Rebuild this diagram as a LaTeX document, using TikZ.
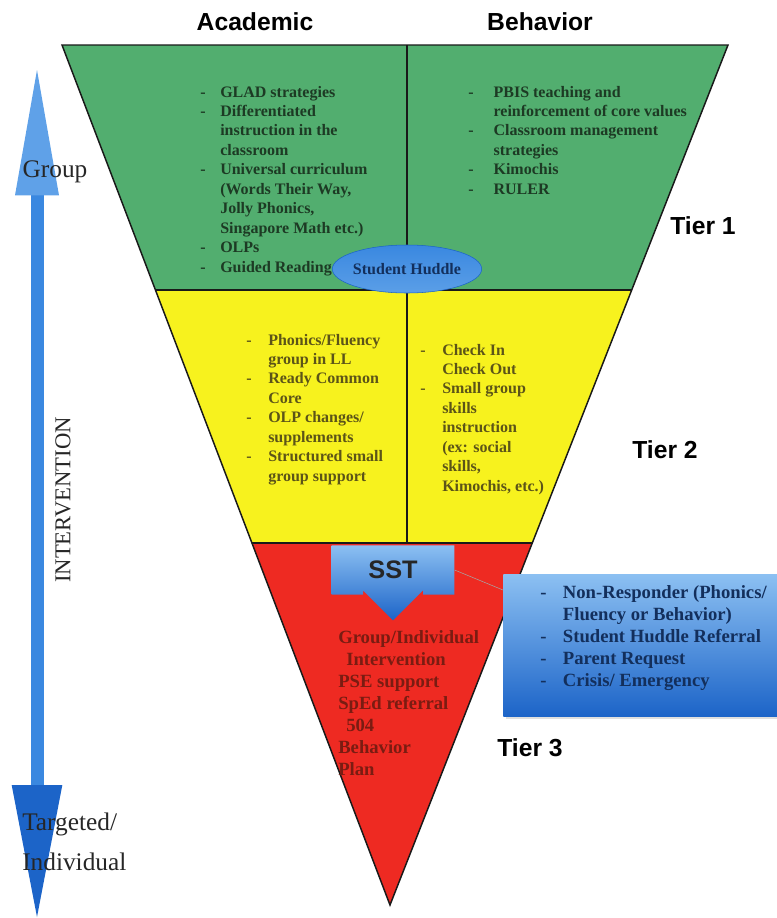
\documentclass[tikz,border=0pt]{standalone}
\usepackage{fontspec}
\setmainfont{Liberation Serif}
\setsansfont{Liberation Sans}
\usetikzlibrary{arrows.meta,positioning,shapes.geometric,shapes.arrows,calc,shadows}
\definecolor{tgreen}{HTML}{52AE6F}
\definecolor{tyellow}{HTML}{F7F21E}
\definecolor{tred}{HTML}{EE2A22}
\definecolor{tblue}{HTML}{3A88E0}
\definecolor{tbluelt}{HTML}{8CC0F2}
\definecolor{tbluedk}{HTML}{1C64C8}
\definecolor{gtxt}{HTML}{1D3A24}
\definecolor{ytxt}{HTML}{5C5418}
\definecolor{rtxt}{HTML}{7A1C12}
\definecolor{btxt}{HTML}{132F5C}
\tikzset{
  hdr/.style={font=\sffamily\bfseries\fontsize{18.5}{22}\selectfont, inner sep=0pt},
  lst/.style={anchor=base west, inner sep=0pt, font=\bfseries\fontsize{12}{14.6}\selectfont},
  biglst/.style={lst, font=\bfseries\fontsize{14}{16.5}\selectfont},
  lbl/.style={font=\fontsize{19}{30}\selectfont, inner sep=0pt, text=black!85},
  edge/.style={draw=black!90, line width=1.1pt},
}

\begin{document}
\begin{tikzpicture}[x=0.75pt,y=-0.75pt]
  \useasboundingbox (0,0) rectangle (777,918);
  % the tiers
  \coordinate (tl)   at (62,45);
  \coordinate (tr)   at (728,45);
  \coordinate (apex) at (390,905);
  \coordinate (l1) at ($(tl)!0.285!(apex)$);
  \coordinate (r1) at ($(tr)!0.285!(apex)$);
  \coordinate (l2) at ($(tl)!0.579!(apex)$);
  \coordinate (r2) at ($(tr)!0.579!(apex)$);
  \coordinate (mid) at (407,45);
  \fill[tgreen]  (tl) -- (tr) -- (r1) -- (l1) -- cycle;
  \fill[tyellow] (l1) -- (r1) -- (r2) -- (l2) -- cycle;
  \fill[tred]    (l2) -- (r2) -- (apex) -- cycle;
  \draw[edge] (l1) -- (r1) (l2) -- (r2);
  \draw[edge] (mid) -- (mid |- l2);
  \draw[edge, line join=miter] (tl) -- (tr) -- (apex) -- cycle;

  \node[hdr] (acad)  at (255,22)  {Academic};
  \node[hdr] (behav) at (540,22)  {Behavior};
  \node[hdr] (tier1) at (703,226) {Tier 1};
  \node[hdr] (tier2) at (665,450) {Tier 2};
  \node[hdr] (tier3) at (530,748) {Tier 3};

  % tier 1
  \node[lst, text=gtxt] (acad1) at (200,97) {\begin{tabular}[t]{@{}p{15pt}@{}l@{}}
    - & GLAD strategies\\
    - & Differentiated\\
      & instruction in the\\
      & classroom\\
    - & Universal curriculum\\
      & (Words Their Way,\\
      & Jolly Phonics,\\
      & Singapore Math etc.)\\
    - & OLPs\\
    - & Guided Reading
  \end{tabular}};
  \node[lst, text=gtxt] (behav1) at (468,97) {\begin{tabular}[t]{@{}p{19pt}@{}l@{}}
    - & PBIS teaching and\\
      & reinforcement of core values\\
    - & Classroom management\\
      & strategies\\
    - & Kimochis\\
    - & RULER
  \end{tabular}};
  \node[ellipse, draw=tbluedk, thin, top color=tblue, bottom color=tblue!60!tbluelt,
        minimum width=112pt, minimum height=36pt, inner xsep=-10pt, inner ysep=0pt, text=btxt,
        font=\bfseries\fontsize{12}{14}\selectfont] (huddle) at (407,269) {Student Huddle};

  % tier 2
  \node[lst, text=ytxt] (acad2) at (246,345) {\begin{tabular}[t]{@{}p{16.5pt}@{}l@{}}
    - & Phonics/Fluency\\
      & group in LL\\
    - & Ready Common\\
      & Core\\
    - & OLP changes/\\
      & supplements\\
    - & Structured small\\
      & group support
  \end{tabular}};
  \node[lst, text=ytxt] (behav2) at (420,355) {\begin{tabular}[t]{@{}p{16.5pt}@{}l@{}}
    - & Check In\\
      & Check Out\\
    - & Small group\\
      & skills\\
      & instruction\\
      & (ex: social\\
      & skills,\\
      & Kimochis, etc.)
  \end{tabular}};

  % tier 3
  \node[arrow box, arrow box arrows={south:19pt from border},
        arrow box shaft width=45pt, arrow box head extend=6pt,
        minimum width=92pt, minimum height=37pt,
        top color=tbluelt, bottom color=tbluedk, draw=none,
        font=\sffamily\bfseries\fontsize{19}{22}\selectfont, text=black!85] (sst) at (393,570) {SST};
  \node[biglst, text=rtxt, align=left] (red3) at (338,643) {\begin{tabular}[t]{@{}l@{}}
    Group/Individual\\
    \hspace{6pt}Intervention\\
    PSE support\\
    SpEd referral\\
    \hspace{6pt}504\\
    Behavior\\
    Plan
  \end{tabular}};
  \node[anchor=north west, minimum width=210pt, minimum height=106.5pt, inner sep=0pt,
        top color=tbluelt, bottom color=tbluedk, drop shadow={opacity=0.25}] (side) at (503,574) {};
  \draw[gray!70, thin] (sst.east) -- ($(side.north west)+(0,16)$);
  \node[biglst, text=btxt] (reasons) at (540,598) {\begin{tabular}[t]{@{}p{17pt}@{}l@{}}
    - & Non-Responder (Phonics/\\
      & Fluency or Behavior)\\
    - & Student Huddle Referral\\
    - & Parent Request\\
    - & Crisis/ Emergency
  \end{tabular}};

  % intervention arrow
  \coordinate (gtop) at (37,70);
  \coordinate (gbot) at (37,917);
  \draw[line width=9.75pt, tblue,
        {Triangle[length=94pt, width=33pt, line width=0pt, color=tblue!55!tbluelt]}-{Triangle[length=99pt, width=38pt, line width=0pt, color=tbluedk]}]
        (gtop) -- (gbot);
  \node[lbl] (grp) at (55,172) {Group};
  \node[lbl, rotate=90, font=\fontsize{17}{20}\selectfont] (interv) at (63,500) {INTERVENTION};
  \node[lbl, anchor=west, align=left] (targ) at (22,842) {Targeted/\\Individual};
\end{tikzpicture}
\end{document}
